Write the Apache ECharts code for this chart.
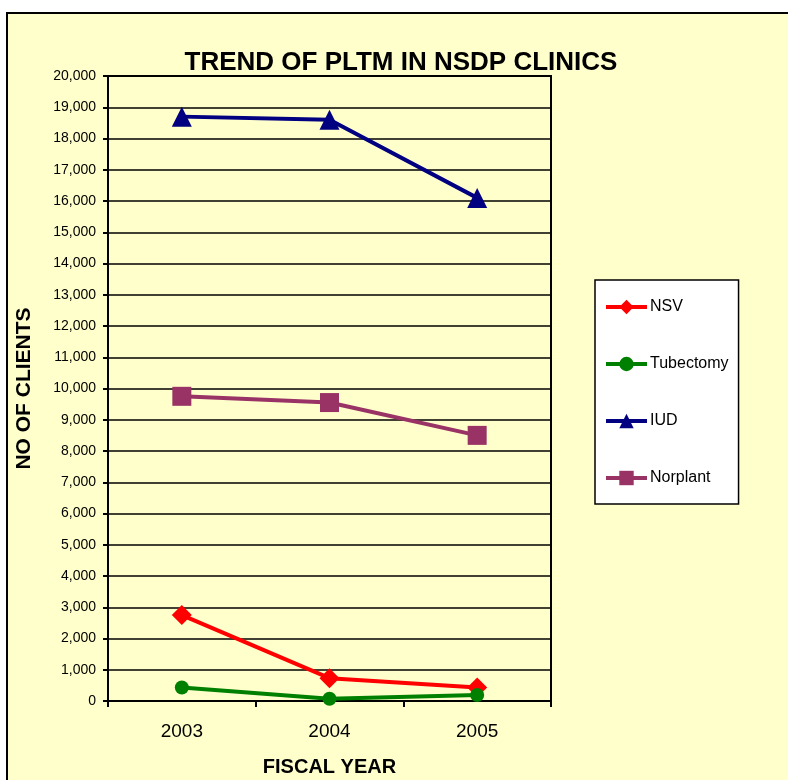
<!DOCTYPE html>
<html>
<head>
<meta charset="utf-8">
<script src="https://cdn.jsdelivr.net/npm/echarts@6/dist/echarts.min.js"></script>
<style>
  html, body { margin: 0; padding: 0; background: #fff; }
  #main { width: 788px; height: 780px; }
</style>
</head>
<body>
<div id="main"></div>
<script>
// data
var years = ['2003', '2004', '2005']
var nsv = [2750, 730, 430]
var tubectomy = [430, 70, 190]
var iud = [18700, 18600, 16100]
var norplant = [9750, 9550, 8500]

var myChart = echarts.init(document.getElementById('main'))
var font = 'Arial, "Liberation Sans", sans-serif'

myChart.setOption({
  backgroundColor: '#ffffff',
  color: ['#ff0000', '#008000', '#000080', '#993366'],
  graphic: [
    {
      type: 'rect',
      z: -10,
      silent: true,
      shape: { x: 7, y: 13, width: 820, height: 820 },
      style: { fill: '#ffffcc', stroke: '#000', lineWidth: 2 }
    }
  ],
  title: {
    text: 'TREND OF PLTM IN NSDP CLINICS',
    left: 396,
    top: 45,
    textAlign: 'center',
    textStyle: { fontFamily: font, fontSize: 26, fontWeight: 'bold', color: '#000' }
  },
  legend: {
    orient: 'vertical',
    left: 595,
    top: 280,
    padding: [19, 10, 18, 9],
    itemGap: 41,
    itemWidth: 41,
    itemHeight: 18,
    backgroundColor: '#ffffff',
    borderColor: '#000',
    borderWidth: 1.5,
    lineStyle: { width: 4 },
    textStyle: { fontFamily: font, fontSize: 16, color: '#000', padding: [0, 0, 0, -2] },
    data: ['NSV', 'Tubectomy', 'IUD', 'Norplant']
  },
  grid: {
    left: 108,
    right: 237,
    top: 76,
    bottom: 79,
    outerBoundsMode: 'none',
    show: true,
    backgroundColor: '#ffffcc',
    borderColor: '#000',
    borderWidth: 2
  },
  xAxis: {
    type: 'category',
    data: years,
    boundaryGap: true,
    name: 'FISCAL YEAR',
    nameLocation: 'middle',
    nameGap: 56,
    nameTextStyle: { fontFamily: font, fontSize: 20, fontWeight: 'bold', color: '#000' },
    axisLine: { lineStyle: { color: '#000', width: 2 } },
    axisTick: { show: true, length: 6, lineStyle: { color: '#000', width: 2 } },
    axisLabel: { fontFamily: font, fontSize: 19, color: '#000', margin: 21 }
  },
  yAxis: {
    type: 'value',
    min: 0,
    max: 20000,
    interval: 1000,
    name: 'NO OF CLIENTS',
    nameLocation: 'middle',
    nameGap: 73,
    nameTextStyle: { fontFamily: font, fontSize: 21, fontWeight: 'bold', color: '#000' },
    axisLine: { show: true, lineStyle: { color: '#000', width: 2 } },
    axisTick: { show: true, length: 5, lineStyle: { color: '#000', width: 2 } },
    axisLabel: {
      fontFamily: font,
      fontSize: 14,
      color: '#000',
      margin: 12,
      formatter: function (v) {
        return v.toLocaleString('en-US')
      }
    },
    splitLine: { show: true, lineStyle: { color: '#000', width: 1.5 } }
  },
  series: [
    {
      name: 'NSV',
      type: 'line',
      data: nsv,
      symbol: 'diamond',
      symbolSize: 20,
      lineStyle: { width: 4 }
    },
    {
      name: 'Tubectomy',
      type: 'line',
      data: tubectomy,
      symbol: 'circle',
      symbolSize: 14,
      lineStyle: { width: 4 }
    },
    {
      name: 'IUD',
      type: 'line',
      data: iud,
      symbol: 'triangle',
      symbolSize: 20,
      lineStyle: { width: 4 }
    },
    {
      name: 'Norplant',
      type: 'line',
      data: norplant,
      symbol: 'rect',
      symbolSize: 19,
      lineStyle: { width: 4 }
    }
  ]
})
</script>
</body>
</html>
